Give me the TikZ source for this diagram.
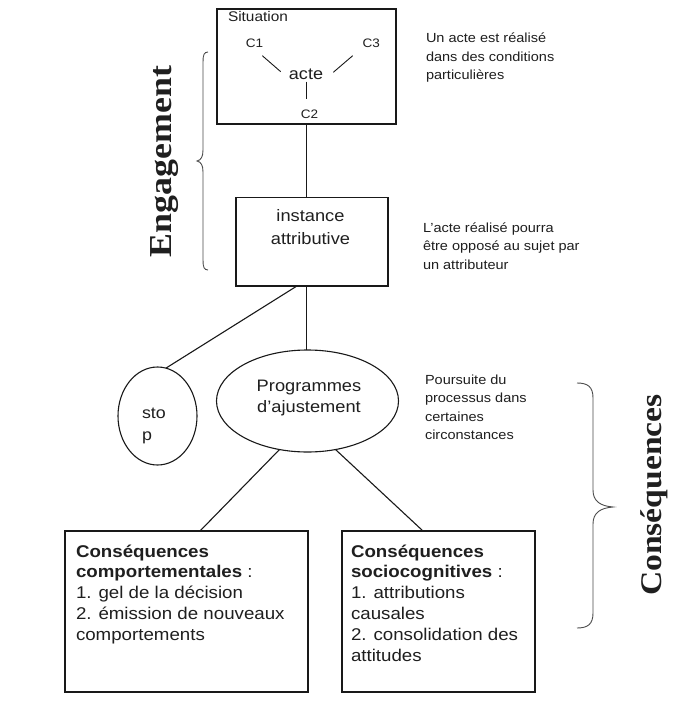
\documentclass[tikz,border=0pt]{standalone}
\usepackage{fontspec}
\setmainfont{Liberation Sans}[FakeStretch=1.1]
\newfontfamily\titlefont{Liberation Serif}[FakeStretch=1.12]
\usetikzlibrary{shapes.geometric}
\begin{document}
\begin{tikzpicture}[x=1pt,y=-1pt,
  every node/.style={inner sep=0pt, outer sep=0pt, text=black!88},
  frame/.style={draw=black!90, line width=1.1pt},
  conn/.style={draw=black!90, line width=1.1pt},
  brc/.style={draw=black!70, line width=0.9pt},
  lbl/.style={font=\fontsize{12.3}{14}\selectfont, anchor=base},
  sit/.style={font=\fontsize{14}{16}\selectfont, anchor=base west},
  mid/.style={font=\fontsize{16.6}{22.3}\selectfont, align=center, anchor=base},
  ann/.style={font=\fontsize{13.2}{18.5}\selectfont, align=left, anchor=base west},
  boxtxt/.style={font=\fontsize{17}{20.8}\selectfont, align=left, anchor=base west},
  vert/.style={font=\titlefont\bfseries\fontsize{32}{32}\selectfont, rotate=90, anchor=base}
]
\useasboundingbox (0,0) rectangle (682,706);
\fill[white] (0,0) rectangle (682,706);

% Situation box
\node[frame, minimum width=179pt, minimum height=115pt] (sitbox) at (306.5,66.5) {};
\node[sit] (situation) at (228,21.5) {Situation};
\node[lbl] (c1) at (254.5,47.3) {C1};
\node[lbl] (c3) at (371.3,47.3) {C3};
\node[lbl] (c2) at (309.5,118.3) {C2};
\node[font=\fontsize{16.4}{18}\selectfont, anchor=base] (acte) at (306,80) {acte};
\coordinate (c1e) at (262.3,55.7);
\coordinate (c1a) at (280.7,71.7);
\coordinate (c3e) at (352.7,55.7);
\coordinate (c3a) at (333.3,72.3);
\coordinate (c2a) at (306.7,81.7);
\coordinate (c2e) at (306.7,99.3);
\draw[conn, line width=0.9pt] (c1e) -- (c1a);
\draw[conn, line width=0.9pt] (c3e) -- (c3a);
\draw[conn, line width=0.9pt] (c2a) -- (c2e);

% instance attributive
\node[frame, minimum width=152pt, minimum height=88.3pt] (inst) at (312,241.8) {};
\node[mid] (insttxt) at (310.5,244) {instance\\attributive};

% ellipses
\node[frame, ellipse, minimum width=182pt, minimum height=102pt] (prog) at (307.5,401) {};
\node[mid, font=\fontsize{16.6}{21}\selectfont] (progtxt) at (309,412.7) {Programmes\\d’ajustement};
\node[frame, ellipse, minimum width=79pt, minimum height=98pt] (stop) at (157.5,416) {};
\node[font=\fontsize{16.2}{22}\selectfont, align=left, anchor=base west] (stoptxt) at (142,440) {sto\\p};

% bottom boxes
\node[frame, minimum width=243pt, minimum height=161pt] (lbox) at (186.5,611.5) {};
\node[boxtxt] (ltxt) at (76,640.2) {\textbf{Conséquences}\\\textbf{comportementales} :\\1. gel de la décision\\2. émission de nouveaux\\comportements};
\node[frame, minimum width=193pt, minimum height=161pt] (rbox) at (438.5,611.5) {};
\node[boxtxt] (rtxt) at (351,661) {\textbf{Conséquences}\\\textbf{sociocognitives} :\\1. attributions\\causales\\2. consolidation des\\attitudes};

% connectors
\draw[conn] (sitbox.south) -- (sitbox.south |- inst.north);
\draw[conn] (sitbox.south |- inst.south) -- (sitbox.south |- prog.north);
\draw[conn] ([xshift=-15pt]inst.south) -- (stop.80);
\draw[conn] (prog.240) -- ([xshift=135pt]lbox.north west);
\draw[conn] (prog.300) -- ([xshift=81pt]rbox.north west);

% annotations
\node[ann] (ann1) at (426,80) {Un acte est réalisé\\dans des conditions\\particulières};
\node[ann] (ann2) at (423,269) {L’acte réalisé pourra\\être opposé au sujet par\\un attributeur};
\node[ann] (ann3) at (425,439.5) {Poursuite du\\processus dans\\certaines\\circonstances};

% braces
\draw[brc] (208,52) .. controls (204,52) and (203,55) .. (203,62) -- (203,150)
  .. controls (203,157) and (201,160) .. (197,161)
  .. controls (201,162) and (203,165) .. (203,172) -- (203,260)
  .. controls (203,267) and (204,270) .. (208,270);
\draw[brc] (577,383) .. controls (588,383) and (593,387) .. (593,398) -- (593,490)
  .. controls (593,501) and (600,506) .. (613,507)
  .. controls (600,508) and (593,513) .. (593,524) -- (593,613)
  .. controls (593,624) and (588,628) .. (577,628);

% vertical titles
\node[vert] (engagement) at (171.7,161.5) {Engagement};
\node[vert, font=\titlefont\bfseries\fontsize{30}{30}\selectfont] (consequences) at (661.7,495) {Conséquences};
\end{tikzpicture}
\end{document}
